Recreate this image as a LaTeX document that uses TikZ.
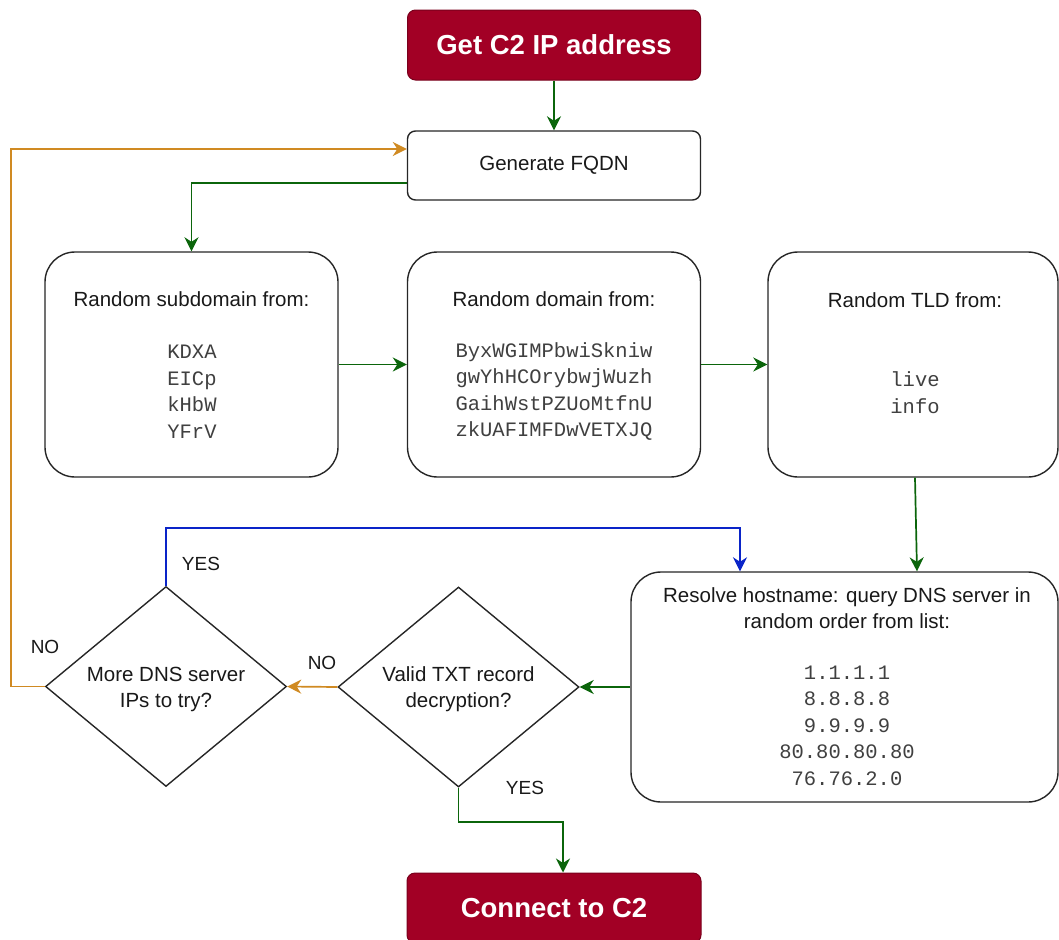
\documentclass[tikz,border=0pt]{standalone}
\usepackage{fontspec}
\setmainfont{Liberation Sans}
\newfontfamily\monof{Liberation Mono}
\usetikzlibrary{shapes.geometric,arrows.meta}
\definecolor{dred}{HTML}{A20025}
\definecolor{dgreen}{HTML}{0B650B}
\definecolor{dorange}{HTML}{D08A22}
\definecolor{dblue}{HTML}{0A24C8}
\begin{document}
\begin{tikzpicture}[x=1bp,y=-1bp,
  box/.style={draw=black!85, line width=1.4bp, rounded corners=8bp, fill=white, inner sep=0pt},
  bigbox/.style={box, rounded corners=30bp},
  redbox/.style={draw=dred!75!black, line width=1bp, fill=dred, rounded corners=8bp, inner sep=0pt,
     text=white, font=\bfseries\fontsize{27.5bp}{33bp}\selectfont},
  dia/.style={diamond, draw=black!85, line width=1.4bp, minimum width=241bp, minimum height=200bp, inner sep=0pt},
  txt/.style={font=\fontsize{20.5bp}{26bp}\selectfont, align=center, inner sep=0pt, text=black!90},
  mono/.style={font=\monof\fontsize{20.5bp}{26.5bp}\selectfont, align=center, inner sep=0pt, text=black!75},
  lbl/.style={font=\fontsize{19bp}{23bp}\selectfont, inner sep=0pt, text=black!90},
  tip/.style={-{Stealth[length=14bp,width=14bp,inset=4.5bp]}},
  gline/.style={draw=dgreen, line width=1.7bp, tip},
  oline/.style={draw=dorange, line width=1.7bp, tip},
  bline/.style={draw=dblue, line width=1.7bp, tip}]
\useasboundingbox (0,0) rectangle (1059,940);

% boxes
\node[redbox, minimum width=293bp, minimum height=70bp] (get) at (554,45) {Get C2 IP address};
\node[box, minimum width=293bp, minimum height=69bp, txt] (fqdn) at (554,165.5) {Generate FQDN};
\node[bigbox, minimum width=293bp, minimum height=225bp] (sub) at (191.5,364.5) {};
\node[bigbox, minimum width=293bp, minimum height=225bp] (dom) at (554,364.5) {};
\node[bigbox, minimum width=290bp, minimum height=225bp] (tld) at (913,364.5) {};
\node[bigbox, minimum width=427bp, minimum height=230bp] (res) at (844.5,687) {};
\node[dia] (valid) at (458.5,687) {};
\node[dia] (more) at (166,686.5) {};
\node[redbox, minimum width=294bp, minimum height=70bp] (conn) at (554,908) {Connect to C2};

% texts
\node[txt] (subT) at (191.5,299) {Random subdomain from:};
\node[mono] (subL) at (192,391.5) {KDXA\\EICp\\kHbW\\YFrV};
\node[txt] (domT) at (554,299) {Random domain from:};
\node[mono] (domL) at (554,391.5) {ByxWGIMPbwiSkniw\\gwYhHCOrybwjWuzh\\GaihWstPZUoMtfnU\\zkUAFIMFDwVETXJQ};
\node[txt] (tldT) at (915,300) {Random TLD from:};
\node[mono] (tldL) at (915,392.5) {live\\info};
\node[txt] (resT) at (847,608) {Resolve hostname: query DNS server in\\random order from list:};
\node[mono] (resL) at (847,725.5) {1.1.1.1\\8.8.8.8\\9.9.9.9\\80.80.80.80\\76.76.2.0};
\node[txt] (validT) at (458.5,689) {Valid TXT record\\decryption?};
\node[txt] (moreT) at (166,689) {More DNS server\\IPs to try?};

% labels
\node[lbl] (yes1) at (201,564) {YES};
\node[lbl] (no1) at (45,647) {NO};
\node[lbl] (no2) at (322,663) {NO};
\node[lbl] (yes2) at (525,788) {YES};

% connectors
\draw[gline] (get.south) -- (fqdn.north);
\draw[gline] ([yshift=-17.5bp]fqdn.west) -| (sub.north);
\draw[gline] (sub.east) -- (dom.west);
\draw[gline] (dom.east) -- (tld.west);
\draw[gline] ([xshift=2bp]tld.south) -- ([xshift=72.5bp]res.north);
\draw[gline] (res.west) -- (valid.east);
\draw[oline] (valid.west) -- (more.east);
\draw[oline] (more.west) -- (11,686.5) |- ([yshift=16.5bp]fqdn.west);
\draw[bline] (more.north) -- (166,528) -| ([xshift=-104.5bp]res.north);
\draw[gline] (valid.south) -- (458.5,822) -| ([xshift=9bp]conn.north);
\end{tikzpicture}
\end{document}
